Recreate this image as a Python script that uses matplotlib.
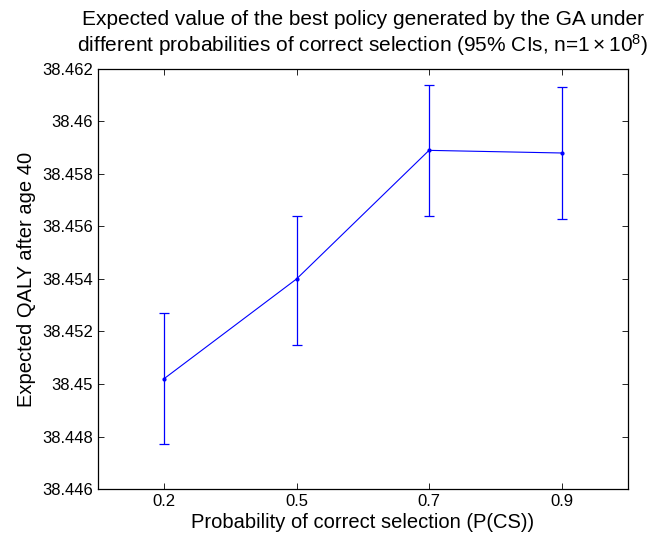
import matplotlib
matplotlib.use("Agg")
import matplotlib.pyplot as plt

categories = ["0.2", "0.5", "0.7", "0.9"]
mean_qaly = [38.4502, 38.4540, 38.4589, 38.4588]
ci_lower = [38.4477, 38.4515, 38.4564, 38.4563]
ci_upper = [38.4527, 38.4564, 38.4614, 38.4613]

plt.rcParams['font.family'] = ['Liberation Sans', 'DejaVu Sans']
plt.rcParams['mathtext.fontset'] = 'custom'
plt.rcParams['mathtext.rm'] = 'Liberation Sans'
plt.rcParams['mathtext.it'] = 'Liberation Sans:italic'

fig = plt.figure(figsize=(6.56, 5.41), dpi=100)
ax = fig.add_axes([0.149, 0.0961, 0.808, 0.7764])

x = list(range(1, len(categories) + 1))
yerr = [[m - lo for m, lo in zip(mean_qaly, ci_lower)],
        [hi - m for m, hi in zip(mean_qaly, ci_upper)]]
ax.errorbar(x, mean_qaly, yerr=yerr, color='blue', lw=0.8, marker='.',
            markersize=4, capsize=3.5, elinewidth=0.9, capthick=0.9)

ax.set_xlim(0.5, 4.5)
ax.set_ylim(38.446, 38.462)
ax.set_xticks(x)
ax.set_xticklabels(categories)
yt = [38.446, 38.448, 38.45, 38.452, 38.454, 38.456, 38.458, 38.46, 38.462]
ax.set_yticks(yt)
ax.set_yticklabels([f"{v:.3f}".rstrip('0') for v in yt])
ax.tick_params(direction='in', top=True, right=True, length=4, width=0.6,
               labelsize=12)
for s in ax.spines.values():
    s.set_linewidth(0.9)

ax.set_xlabel("Probability of correct selection (P(CS))", fontsize=14.5, labelpad=3)
ax.set_ylabel("Expected QALY after age 40", fontsize=14.5)
ax.set_title("Expected value of the best policy generated by the GA under\n"
             r"different probabilities of correct selection (95% CIs, n=$1\times10^{8}$)",
             fontsize=15, pad=12.5, linespacing=1.13)

fig.savefig("out.png", dpi=100)
